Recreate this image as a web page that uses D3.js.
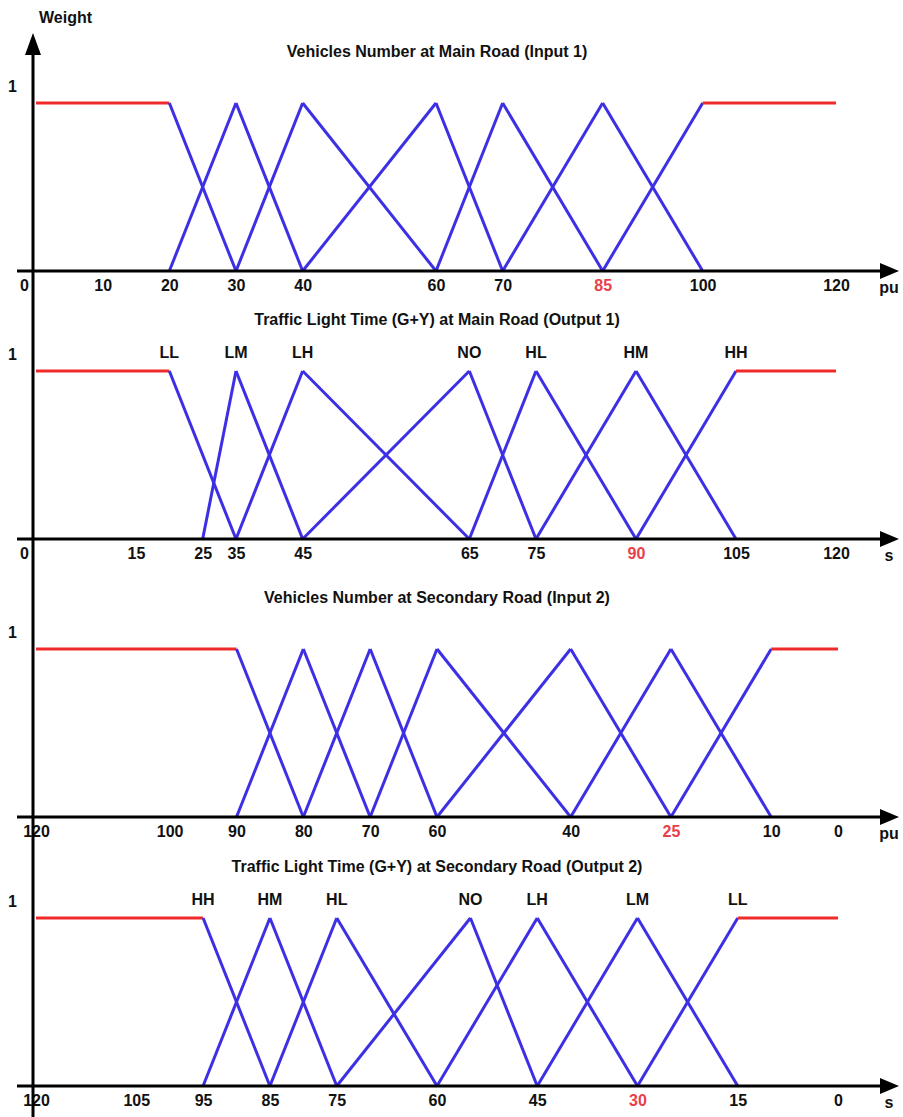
<!DOCTYPE html>
<html><head><meta charset="utf-8">
<script src="https://cdn.jsdelivr.net/npm/d3@7"></script>
<style>
body{margin:0;background:#fff}
svg text{font-family:"Liberation Sans",Arial,sans-serif;font-weight:bold;font-size:16px;fill:#111}
</style>
</head><body><svg id="c" width="903" height="1117"></svg>
<script>
// ---------------- data ----------------
const titles = [
  "Vehicles Number at Main Road (Input 1)",
  "Traffic Light Time (G+Y) at Main Road (Output 1)",
  "Vehicles Number at Secondary Road (Input 2)",
  "Traffic Light Time (G+Y) at Secondary Road (Output 2)"
];
const units = ["pu", "s", "pu", "s"];
const ticks1 = [0, 10, 20, 30, 40, 60, 70, 85, 100, 120];
const ticks2 = [0, 15, 25, 35, 45, 65, 75, 90, 105, 120];
const ticks3 = [120, 100, 90, 80, 70, 60, 40, 25, 10, 0];
const ticks4 = [120, 105, 95, 85, 75, 60, 45, 30, 15, 0];
const highlighted = [85, 90, 25, 30];
const weightTicks = [1];
const namesOut1 = ["LL", "LM", "LH", "NO", "HL", "HM", "HH"];
const namesOut2 = ["HH", "HM", "HL", "NO", "LH", "LM", "LL"];
// membership functions: [value, weight] breakpoints
const input1 = [
  [[0,1],[20,1],[30,0]], [[20,0],[30,1],[40,0]], [[30,0],[40,1],[60,0]],
  [[40,0],[60,1],[70,0]], [[60,0],[70,1],[85,0]], [[70,0],[85,1],[100,0]],
  [[85,0],[100,1],[120,1]]
];
const output1 = [
  [[0,1],[20,1],[35,0]], [[25,0],[35,1],[45,0]], [[35,0],[45,1],[65,0]],
  [[45,0],[65,1],[75,0]], [[65,0],[75,1],[90,0]], [[75,0],[90,1],[105,0]],
  [[90,0],[105,1],[120,1]]
];
const input2 = [
  [[120,1],[90,1],[80,0]], [[90,0],[80,1],[70,0]], [[80,0],[70,1],[60,0]],
  [[70,0],[60,1],[40,0]], [[60,0],[40,1],[25,0]], [[40,0],[25,1],[10,0]],
  [[25,0],[10,1],[0,1]]
];
const output2 = [
  [[120,1],[95,1],[85,0]], [[95,0],[85,1],[75,0]], [[85,0],[75,1],[60,0]],
  [[75,0],[55,1],[45,0]], [[60,0],[45,1],[30,0]], [[45,0],[30,1],[15,0]],
  [[30,0],[15,1],[0,1]]
];

// ---------------- layout ----------------
const W = 903, H = 1117;
const AX = 33;                        // vertical axis x
const baselines = [271, 539, 817, 1086];
const PH = 168;                        // height from 0 to 1
const BLUE = "#3d2fe4", RED = "#f02a2a", TICKRED = "#e8404a";

const svg = d3.select("#c");
const base = d3.scaleLinear().domain([0, 120]).range([36, 836]);
const baseRev = d3.scaleLinear().domain([120, 0]).range([36, 838]);
// Output 1 axis is drawn with uneven spacing in the source figure
const out1Knots = [0, 25, 35, 45, 65, 120];
const out1Slots = [0, 25, 30, 40, 65, 120];
const xOut1 = d3.scaleLinear().domain(out1Knots).range(out1Slots.map(base));

const panels = [
  {x: base,    ticks: ticks1, terms: input1,  names: null,     asc: true},
  {x: xOut1,   ticks: ticks2, terms: output1, names: namesOut1, asc: true},
  {x: baseRev, ticks: ticks3, terms: input2,  names: null,     asc: false},
  {x: baseRev, ticks: ticks4, terms: output2, names: namesOut2, asc: false}
];

panels.forEach((p, i) => {
  const b = baselines[i];
  const y = d3.scaleLinear().domain([0, 1]).range([b, b - PH]);
  const g = svg.append("g");

  // title
  g.append("text").attr("x", 437).attr("y", b - 214)
    .attr("text-anchor", "middle").text(titles[i]);

  // membership segments
  const line = d3.line().x(d => p.x(d[0])).y(d => y(d[1]));
  p.terms.forEach((pts, k) => {
    for (let j = 0; j < pts.length - 1; j++) {
      const flat = pts[j][1] === 1 && pts[j + 1][1] === 1;
      g.append("path").attr("d", line([pts[j], pts[j + 1]]))
        .attr("fill", "none").attr("stroke", flat ? RED : BLUE)
        .attr("stroke-width", 3).attr("stroke-linejoin", "round");
    }
    if (p.names) {
      const pk = pts.find((q, j) => q[1] === 1 &&
        ((pts[j - 1] && pts[j - 1][1] === 0) || (pts[j + 1] && pts[j + 1][1] === 0)));
      g.append("text").attr("x", p.x(pk[0])).attr("y", y(1) - 13)
        .attr("text-anchor", "middle").text(p.names[k]);
    }
  });

  // x axis line + arrow
  g.append("line").attr("x1", 17).attr("x2", 884).attr("y1", b).attr("y2", b)
    .attr("stroke", "#000").attr("stroke-width", 3);
  g.append("path").attr("d", `M880,${b - 8}L899,${b}L880,${b + 8}Z`).attr("fill", "#000");

  // x tick labels via d3 axis
  const ax = g.append("g").attr("transform", `translate(0,${b})`)
    .call(d3.axisBottom(p.x).tickValues(p.ticks).tickSize(0).tickPadding(9)
      .tickFormat(d3.format("d")));
  ax.select(".domain").remove();
  ax.selectAll("text").attr("font-family", null).attr("font-size", null)
    .style("fill", d => d === highlighted[i] ? TICKRED : "#111")
    .attr("dx", d => (p.asc && d === 0) ? -12 : 0);

  // unit label
  g.append("text").attr("x", 889).attr("y", b + 22)
    .attr("text-anchor", "middle").text(units[i]);

  // weight "1" label via axis
  const ay = g.append("g").attr("transform", `translate(${AX},0)`)
    .call(d3.axisLeft(y).tickValues(weightTicks).tickSize(0).tickPadding(16)
      .tickFormat(d3.format("d")));
  ay.select(".domain").remove();
  ay.selectAll("text").attr("font-family", null).attr("font-size", null)
    .attr("dy", "-0.72em");
});

// vertical axis + arrow
svg.append("line").attr("x1", AX).attr("x2", AX).attr("y1", 50).attr("y2", H)
  .attr("stroke", "#000").attr("stroke-width", 3);
svg.append("path").attr("d", `M${AX - 8},55L${AX},33L${AX + 8},55Z`).attr("fill", "#000");
svg.append("text").attr("x", 39).attr("y", 23).text("Weight");
</script>
</body></html>
